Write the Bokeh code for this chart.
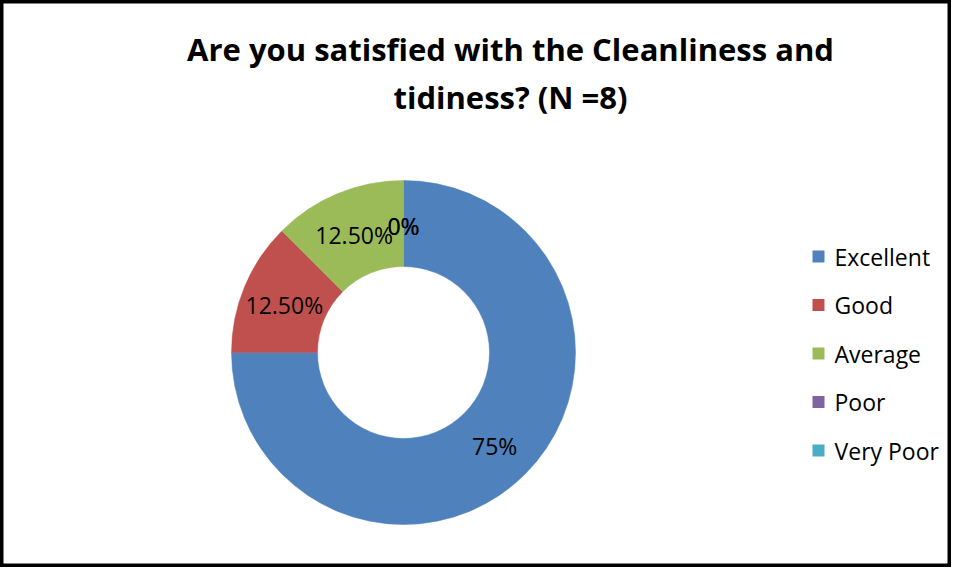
import numpy as np
from bokeh.plotting import figure
from bokeh.models import Range1d, ColumnDataSource, Label
from bokeh.core.properties import value
from bokeh.embed import file_html
from bokeh.resources import INLINE

categories = ["Excellent", "Good", "Average", "Poor", "Very Poor"]
percent_values = [75.0, 12.5, 12.5, 0.0, 0.0]
percent_labels = ["75%", "12.50%", "12.50%", "0%", "0%"]
colors = ["#4F81BD", "#C0504D", "#9BBB59", "#8064A2", "#4BACC6"]
title_lines = ["Are you satisfied with the Cleanliness and", "tidiness? (N =8)"]

FONT = "Open Sans"
W, H = 951, 567

p = figure(width=W, height=H, output_backend="svg", toolbar_location=None,
           x_range=Range1d(0, W), y_range=Range1d(-H, 0),
           min_border=0, tools="")
p.axis.visible = False
p.grid.visible = False
p.outline_line_color = "black"
p.outline_line_width = 6
p.background_fill_color = "white"

# donut geometry (data units == pixels)
cx, cy = 403, -352
r_in, r_out = 86, 172

vals = np.array(percent_values)
frac = vals / vals.sum()
cum = np.cumsum(frac)
prev = cum - frac
start = np.pi / 2 - 2 * np.pi * prev
end = np.pi / 2 - 2 * np.pi * cum
mid = (start + end) / 2

mask = vals > 0
wsrc = ColumnDataSource(dict(
    start=start[mask], end=end[mask],
    color=[c for c, m in zip(colors, mask) if m]))
p.annular_wedge(x=cx, y=cy, inner_radius=r_in, outer_radius=r_out,
                start_angle="start", end_angle="end", direction="clock",
                fill_color="color", line_color="color", line_width=0.5,
                source=wsrc)

r_lab = (r_in + r_out) / 2
lsrc = ColumnDataSource(dict(
    x=cx + r_lab * np.cos(mid), y=cy + r_lab * np.sin(mid) - 2,
    text=percent_labels))
p.text(x="x", y="y", text="text", source=lsrc, text_align="center",
       text_baseline="middle", text_font=value(FONT),
       text_font_size="23px", text_color="black")

# title
for i, line in enumerate(title_lines):
    p.add_layout(Label(x=510, y=-(48 + 48 * i), text=line, text_align="center",
                       text_baseline="middle", text_font=FONT,
                       text_font_size="31px", text_font_style="bold",
                       text_color="black"))

# legend
ly = -(256 + 48.5 * np.arange(len(categories)))
p.rect(x=818, y=ly, width=12, height=12, fill_color=colors, line_color=None)
p.text(x=834, y=ly, text=categories, text_align="left", text_baseline="middle",
       text_font=value(FONT), text_font_size="23px", text_color="black")

open("out.html", "w").write(file_html(p, INLINE))
